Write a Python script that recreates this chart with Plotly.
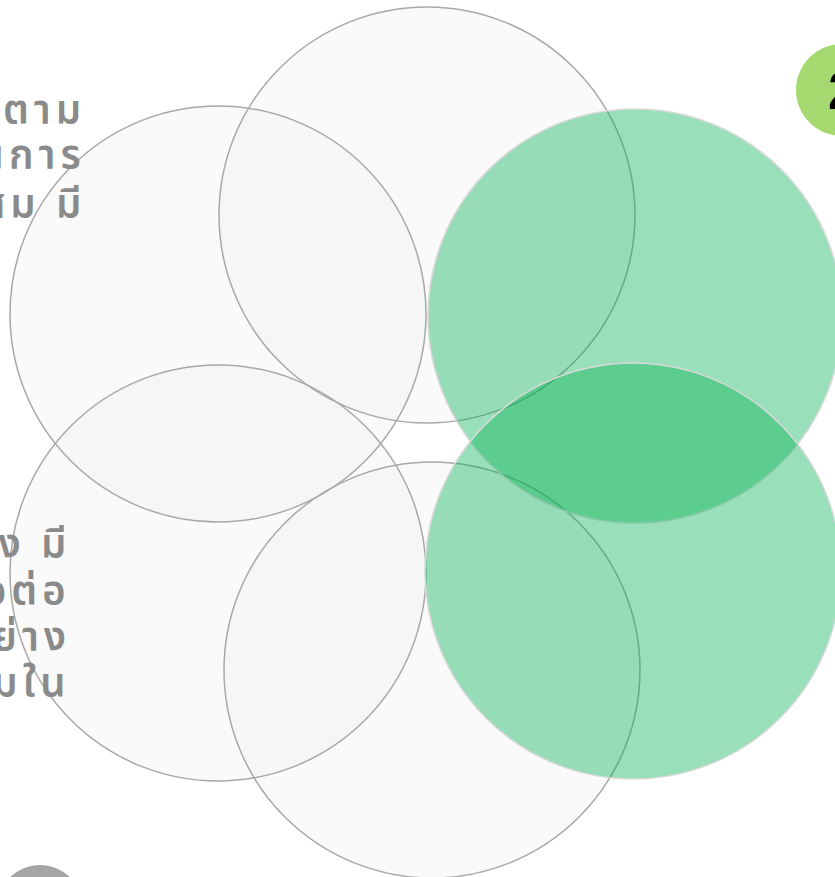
import plotly.graph_objects as go

W, H = 835, 877

# gray outline circles (centre x, centre y, radius) in pixel units
gray_cx = [427, 218, 218, 432]
gray_cy = [215, 314, 573, 670]
gray_r = [208, 208, 208, 208]

# green translucent circles
green_cx = [635, 633]
green_cy = [316, 571]
green_r = [207, 208]

# numbered badge
badge_cx = [842]
badge_cy = [90]
badge_r = [46]
badge_labels = ["2"]

# small gray dot at bottom left
dot_cx = [40]
dot_cy = [908]
dot_r = [43]

# Thai text fragments (cut by left edge)
text_top = ["ติดตาม", "ในการ", "เหมาะสม มี"]
text_top_y = [112, 157, 206]
text_bottom = ["ซึ่ง มี", "เพื่อต่อ", "อย่าง", "สังคมใน"]
text_bottom_y = [546, 593, 639, 685]

fig = go.Figure()
fig.add_trace(go.Scatter(x=[0, W], y=[0, H], mode="markers",
                         marker=dict(opacity=0), hoverinfo="skip", showlegend=False))

shapes = []
# gray fills first
for cx, cy, r in zip(gray_cx, gray_cy, gray_r):
    shapes.append(dict(type="circle", xref="x", yref="y",
                       x0=cx - r, x1=cx + r, y0=cy - r, y1=cy + r,
                       fillcolor="rgba(240,240,240,0.33)",
                       line=dict(width=0), layer="above"))
# gray outlines on top of all gray fills
for cx, cy, r in zip(gray_cx, gray_cy, gray_r):
    shapes.append(dict(type="circle", xref="x", yref="y",
                       x0=cx - r, x1=cx + r, y0=cy - r, y1=cy + r,
                       fillcolor="rgba(0,0,0,0)",
                       line=dict(color="#a8a8a8", width=1.5), layer="above"))
for cx, cy, r in zip(green_cx, green_cy, green_r):
    shapes.append(dict(type="circle", xref="x", yref="y",
                       x0=cx - r, x1=cx + r, y0=cy - r, y1=cy + r,
                       fillcolor="rgba(0,176,80,0.4)",
                       line=dict(color="#d9d9d9", width=1.5), layer="above"))
for cx, cy, r in zip(badge_cx, badge_cy, badge_r):
    shapes.append(dict(type="circle", xref="x", yref="y",
                       x0=cx - r, x1=cx + r, y0=cy - r, y1=cy + r,
                       fillcolor="#a5d86e", line=dict(width=0), layer="above"))
for cx, cy, r in zip(dot_cx, dot_cy, dot_r):
    shapes.append(dict(type="circle", xref="x", yref="y",
                       x0=cx - r, x1=cx + r, y0=cy - r, y1=cy + r,
                       fillcolor="#a6a6a6", line=dict(width=0), layer="above"))

annotations = []
font_txt = dict(family="Noto Sans Thai, Noto Sans, sans-serif", size=40,
                color="#8a8a8a", weight=600)
for t, y in zip(text_top, text_top_y):
    annotations.append(dict(x=88, y=y, xref="x", yref="y", xanchor="right", yanchor="middle",
                            text='<span style="letter-spacing:5px">' + t + '</span>',
                            showarrow=False, font=font_txt))
for t, y in zip(text_bottom, text_bottom_y):
    annotations.append(dict(x=73, y=y, xref="x", yref="y", xanchor="right", yanchor="middle",
                            text='<span style="letter-spacing:5px">' + t + '</span>',
                            showarrow=False, font=font_txt))
for cx, cy, lab in zip(badge_cx, badge_cy, badge_labels):
    annotations.append(dict(x=826, y=cy, xref="x", yref="y", xanchor="left", yanchor="middle",
                            text="<b>" + lab + "</b>", showarrow=False,
                            font=dict(family="Liberation Sans, Arial", size=54, color="#000000")))

fig.update_layout(
    width=W, height=H, margin=dict(l=0, r=0, t=0, b=0),
    paper_bgcolor="white", plot_bgcolor="white",
    xaxis=dict(range=[0, W], visible=False, fixedrange=True),
    yaxis=dict(range=[H, 0], visible=False, fixedrange=True),
    shapes=shapes, annotations=annotations, showlegend=False,
)

fig.write_html(
    "out.html",
    config={"displayModeBar": False},
    post_script="document.body.style.margin='0';document.body.style.overflow='hidden';"
                "document.documentElement.style.overflow='hidden';",
)
